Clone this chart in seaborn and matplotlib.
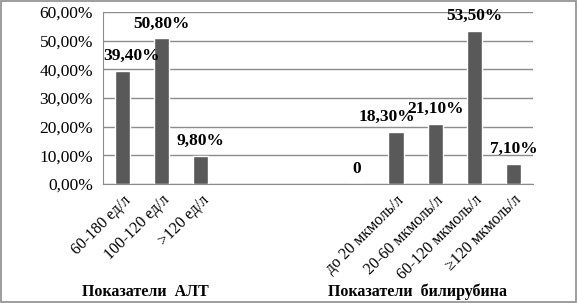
import numpy as np
import pandas as pd
import matplotlib
matplotlib.use("Agg")
import matplotlib.pyplot as plt
import seaborn as sns
from matplotlib.patches import Rectangle

# -------- data --------
categories = ["c0", "c1", "c2", "c3", "c4", "c5", "c6", "c7", "c8", "c9", "c10"]
tick_labels = ["60-180 ед/л", "100-120 ед/л", ">120 ед/л", "", "", "", "",
               "до 20 мкмоль/л", "20-60 мкмоль/л", "60-120 мкмоль/л", "≥120 мкмоль/л"]
values = [39.4, 50.8, 9.8, np.nan, np.nan, np.nan, 0.0, 18.3, 21.1, 53.5, 7.1]
value_labels = ["39,40%", "50,80%", "9,80%", "", "", "", "0",
                "18,30%", "21,10%", "53,50%", "7,10%"]
group_titles = ["Показатели  АЛТ", "Показатели  билирубина"]

df = pd.DataFrame({"cat": categories, "val": values})

# -------- style --------
sns.set_style("white")
plt.rcParams["font.family"] = ["Liberation Serif", "DejaVu Serif"]
plt.rcParams["text.color"] = "black"
plt.rcParams["xtick.color"] = "black"
plt.rcParams["ytick.color"] = "black"

fig = plt.figure(figsize=(5.78, 3.03), dpi=100)
ax = fig.add_axes([0.178, 0.393, 0.744, 0.567])

sns.barplot(data=df, x="cat", y="val", order=categories, color="#595959",
            saturation=1, width=0.39, ax=ax)

ax.set_ylim(0, 60)
ax.set_xlim(-0.5, len(categories) - 0.5)
ax.set_yticks(np.arange(0, 61, 10))
ax.set_yticklabels([f"{v},00%" for v in range(0, 61, 10)], fontsize=12.5)
ax.yaxis.grid(True, color="#8c8c8c", linewidth=1)
ax.set_axisbelow(True)
ax.tick_params(axis="y", length=4, color="#8c8c8c", labelcolor="black", pad=3)

# category labels at centers, tick marks at boundaries
ax.set_xticks(range(len(categories)))
ax.set_xticklabels(tick_labels, rotation=45, ha="right", rotation_mode="anchor", fontsize=11.5)
ax.tick_params(axis="x", which="major", length=0, pad=6, labelcolor="black")
ax.set_xticks(np.arange(-0.5, len(categories), 1), minor=True)
ax.tick_params(axis="x", which="minor", length=5, color="#8c8c8c")
ax.set_xlabel("")
ax.set_ylabel("")

for side in ["top", "right"]:
    ax.spines[side].set_visible(False)
for side in ["left", "bottom"]:
    ax.spines[side].set_color("#8c8c8c")

# data labels (two nudged sideways like the original to avoid overlap)
nudge = {0: 0.23, 7: -0.23}
for i, (v, lab) in enumerate(zip(values, value_labels)):
    if lab == "":
        continue
    ax.annotate(lab, (i + nudge.get(i, 0), v), xytext=(0, 5), textcoords="offset points",
                ha="center", va="bottom", fontsize=12.5, fontweight="bold", color="black")

# group titles
fig.text(145 / 578, 1 - 292 / 303, group_titles[0], ha="center", va="center",
         fontsize=11.5, fontweight="bold", color="black")
fig.text(417 / 578, 1 - 292 / 303, group_titles[1], ha="center", va="center",
         fontsize=11.5, fontweight="bold", color="black")

# outer frame
fig.patches.append(Rectangle((0.002, 0.003), 0.995, 0.993, transform=fig.transFigure,
                             fill=False, edgecolor="#8c8c8c", linewidth=1.2))

fig.savefig("out.png", dpi=100)
